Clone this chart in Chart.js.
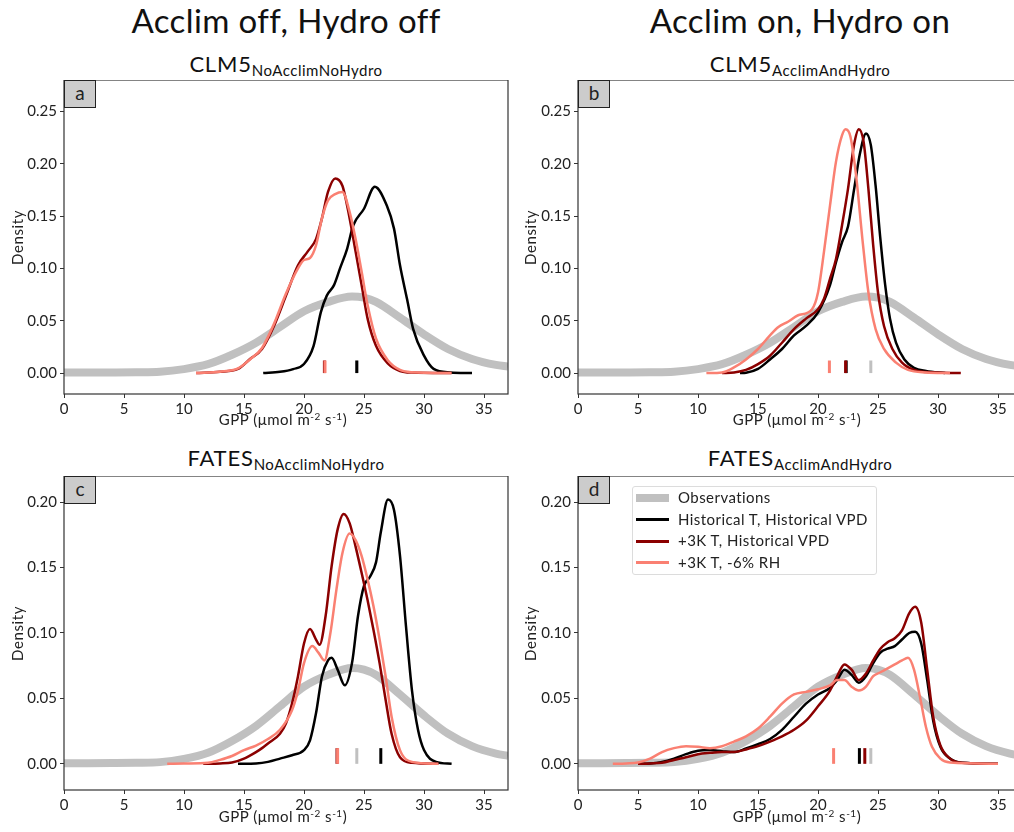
<!DOCTYPE html>
<html>
<head>
<meta charset="utf-8">
<script src="https://cdn.jsdelivr.net/npm/chart.js@4.4.1/dist/chart.umd.min.js"></script>
<style>
  body { margin: 0; width: 1014px; height: 832px; overflow: hidden; position: relative; background: #fff; font-family: Lato, "Open Sans", sans-serif; color: #111; }
  .abs { position: absolute; }
  .coltitle { font-size: 33px; line-height: 33px; text-align: center; width: 572px; top: 4px; letter-spacing: 0.4px; }
  .sub { font-size: 22px; line-height: 22px; text-align: center; width: 444px; letter-spacing: 0.8px; }
  .sub span { font-size: 15px; position: relative; top: 4px; letter-spacing: 0.5px; }
  .xlab { font-size: 15px; line-height: 15px; text-align: center; width: 444px; color: #222; letter-spacing: 0.5px; }
  .xlab sup { font-size: 10px; position: relative; top: -5px; vertical-align: baseline; }
  .ylab { font-size: 15px; line-height: 15px; color: #222; transform: rotate(-90deg); transform-origin: center; width: 80px; text-align: center; letter-spacing: 0.6px; }
  .plabel { width: 30px; height: 26px; background: #cccccc; border: 1px solid #222; font-size: 19px; line-height: 24px; text-align: center; color: #222; z-index: 2; }
  canvas { position: absolute; }
  .legend { left: 632px; top: 486px; width: 243px; height: 87px; border: 1px solid #dcdcdc; border-radius: 3px; background: rgba(255,255,255,0.85); z-index: 2; }
  .legend div { position: absolute; left: 45px; font-size: 15px; line-height: 15px; color: #222; white-space: nowrap; letter-spacing: 0.45px; }
  .legend i { position: absolute; left: 3px; width: 33px; }
</style>
</head>
<body>
<div class="abs coltitle" style="left:0">Acclim off, Hydro off</div>
<div class="abs coltitle" style="left:514px">Acclim on, Hydro on</div>

<div class="abs sub" style="left:64px;top:53px">CLM5<span>NoAcclimNoHydro</span></div>
<div class="abs sub" style="left:578px;top:53px">CLM5<span>AcclimAndHydro</span></div>
<div class="abs sub" style="left:64px;top:447px">FATES<span>NoAcclimNoHydro</span></div>
<div class="abs sub" style="left:578px;top:447px">FATES<span>AcclimAndHydro</span></div>

<canvas id="pa" width="510" height="340" style="left:0;top:80px"></canvas>
<canvas id="pb" width="514" height="340" style="left:510px;top:80px"></canvas>
<canvas id="pc" width="510" height="340" style="left:0;top:476px"></canvas>
<canvas id="pd" width="514" height="340" style="left:510px;top:476px"></canvas>

<div class="abs plabel" style="left:64px;top:80px">a</div>
<div class="abs plabel" style="left:578px;top:80px">b</div>
<div class="abs plabel" style="left:64px;top:476px">c</div>
<div class="abs plabel" style="left:578px;top:476px">d</div>

<div class="abs ylab" style="left:-23px;top:230px">Density</div>
<div class="abs ylab" style="left:490px;top:230px">Density</div>
<div class="abs ylab" style="left:-23px;top:626px">Density</div>
<div class="abs ylab" style="left:490px;top:626px">Density</div>

<div class="abs xlab" style="left:61px;top:412px">GPP (μmol m<sup>-2</sup> s<sup>-1</sup>)</div>
<div class="abs xlab" style="left:575px;top:412px">GPP (μmol m<sup>-2</sup> s<sup>-1</sup>)</div>
<div class="abs xlab" style="left:61px;top:809px">GPP (μmol m<sup>-2</sup> s<sup>-1</sup>)</div>
<div class="abs xlab" style="left:575px;top:809px">GPP (μmol m<sup>-2</sup> s<sup>-1</sup>)</div>

<div class="abs legend" id="legend"></div>

<script>
// tick labels
const xTicks = [0, 5, 10, 15, 20, 25, 30, 35];
const yTicksTop = [0, 0.05, 0.10, 0.15, 0.20, 0.25];
const yTicksBottom = [0, 0.05, 0.10, 0.15, 0.20];

const seriesNames = ['Observations', 'Historical T, Historical VPD', '+3K T, Historical VPD', '+3K T, -6% RH'];

// observed GPP density (same in every panel)
const obs = [[0,0.0005],[2,0.0005],[4,0.0006],[6,0.0008],[8,0.0013],[10,0.0038],[12,0.0085],[14,0.0175],[16,0.029],[18,0.044],[20,0.059],[22,0.068],[24,0.0732],[25,0.072],[26,0.068],[28,0.053],[30,0.037],[32,0.023],[34,0.0135],[36,0.0078],[37,0.0062]];

// a: CLM5 NoAcclimNoHydro
const aHist = [[16.6,0],[18,0.0012],[19.1,0.0038],[20,0.0086],[20.8,0.026],[21.4,0.058],[21.9,0.074],[22.5,0.084],[23,0.1],[23.6,0.119],[24.1,0.141],[25,0.157],[25.9,0.178],[26.9,0.16],[27.5,0.138],[28,0.103],[28.6,0.07],[29.1,0.042],[30,0.0166],[30.8,0.004],[32.2,0.0006],[34,0]];
const aWarm = [[11,0],[13,0.0013],[14.5,0.004],[15.5,0.0134],[16.5,0.023],[17.5,0.045],[18.5,0.074],[19.5,0.103],[20.3,0.116],[21,0.128],[21.5,0.148],[22,0.173],[22.6,0.186],[23.2,0.179],[23.8,0.148],[24.3,0.116],[24.8,0.084],[25.3,0.052],[26,0.026],[27,0.009],[28,0.002],[29,0.0005],[32.3,0]];
const aDry = [[11,0],[13,0.0013],[14.5,0.0045],[15.5,0.013],[16.5,0.024],[17.5,0.047],[18.5,0.076],[19.5,0.1],[20,0.108],[20.5,0.11],[21,0.122],[21.5,0.148],[22,0.165],[22.6,0.171],[23.2,0.173],[23.8,0.154],[24.3,0.128],[24.8,0.097],[25.3,0.065],[26,0.033],[27,0.012],[28,0.003],[29,0.0008],[32.3,0]];
const aMeans = [24.4, 24.4, 21.7, 21.75];

// b: CLM5 AcclimAndHydro
const bHist = [[13.5,0],[14,0.0003],[15,0.004],[16,0.013],[17,0.023],[18,0.036],[19,0.045],[20,0.058],[21,0.084],[21.5,0.106],[22,0.125],[22.5,0.14],[23,0.175],[23.5,0.21],[24,0.229],[24.4,0.218],[24.8,0.179],[25.2,0.128],[25.6,0.084],[26,0.052],[26.5,0.029],[27.2,0.013],[28,0.005],[29,0.002],[30.6,0]];
const bWarm = [[12,0],[13,0.0006],[14,0.003],[15,0.0086],[16,0.0166],[17,0.029],[18,0.042],[19,0.052],[20,0.061],[20.5,0.071],[21,0.09],[21.5,0.109],[22,0.141],[22.5,0.176],[23,0.218],[23.4,0.233],[23.8,0.221],[24.2,0.176],[24.6,0.122],[25,0.077],[25.5,0.045],[26.2,0.023],[27,0.01],[28,0.003],[29,0.001],[31.9,0]];
const bDry = [[10.7,0],[12,0.0006],[13,0.0054],[14,0.013],[15,0.023],[16,0.036],[16.7,0.044],[17.5,0.049],[18.3,0.055],[19.5,0.061],[20,0.077],[20.5,0.116],[21,0.16],[21.5,0.202],[22,0.227],[22.3,0.233],[22.7,0.226],[23.2,0.186],[23.7,0.128],[24.2,0.077],[24.8,0.042],[25.5,0.023],[26.5,0.01],[27.5,0.003],[29,0.0006],[31,0]];
const bMeans = [24.4, 22.35, 22.3, 20.95];

// c: FATES NoAcclimNoHydro
const cHist = [[14.5,0],[16,0.0003],[17,0.0015],[18,0.004],[19,0.0066],[20,0.0105],[20.5,0.018],[21,0.0386],[21.5,0.067],[22,0.079],[22.3,0.081],[22.8,0.072],[23.4,0.06],[24,0.077],[24.5,0.113],[25,0.136],[25.5,0.143],[26,0.154],[26.4,0.177],[27,0.202],[27.5,0.194],[28,0.159],[28.5,0.105],[29,0.056],[29.5,0.026],[30,0.0105],[31,0.0015],[32.3,0]];
const cWarm = [[11.6,0],[13,0.0003],[14,0.001],[15,0.004],[16,0.009],[16.5,0.012],[17,0.0156],[18,0.023],[18.5,0.031],[19,0.046],[19.5,0.067],[20,0.092],[20.5,0.103],[21,0.095],[21.3,0.091],[21.8,0.113],[22.3,0.151],[22.8,0.179],[23.3,0.191],[23.8,0.184],[24.3,0.166],[24.8,0.146],[25.3,0.125],[25.8,0.102],[26.3,0.077],[26.8,0.049],[27.3,0.023],[28,0.005],[29,0.0008],[31.2,0]];
const cDry = [[8.6,0],[10,0.0003],[12,0.0008],[13,0.003],[14,0.006],[15,0.0105],[16,0.014],[17,0.019],[18,0.026],[19,0.041],[19.5,0.056],[20,0.077],[20.7,0.09],[21.2,0.085],[21.7,0.079],[22.2,0.1],[22.7,0.133],[23.2,0.161],[23.8,0.176],[24.3,0.171],[24.8,0.159],[25.3,0.141],[25.8,0.12],[26.3,0.095],[26.8,0.067],[27.3,0.036],[28,0.0105],[29,0.0015],[31.2,0]];
const cMeans = [24.4, 26.4, 22.75, 22.8];

// d: FATES AcclimAndHydro
const dHist = [[5,0],[6,0.0003],[7,0.0015],[8,0.004],[9,0.0074],[10,0.01],[11,0.0105],[12,0.0097],[13,0.009],[14,0.0117],[15,0.015],[16,0.019],[17,0.026],[18,0.036],[19,0.046],[20,0.053],[21,0.058],[21.6,0.064],[22.2,0.072],[22.8,0.068],[23.4,0.062],[24,0.067],[24.6,0.077],[25.2,0.085],[25.8,0.088],[26.4,0.09],[27,0.095],[27.6,0.1],[28.1,0.101],[28.6,0.092],[29.1,0.064],[29.6,0.033],[30.2,0.013],[31,0.004],[32,0.0008],[35,0]];
const dWarm = [[5,0],[6,0.0003],[7,0.0008],[8,0.003],[9,0.005],[10,0.0074],[11,0.0084],[12,0.009],[13,0.009],[14,0.011],[15,0.0135],[16,0.017],[17,0.021],[18,0.026],[19,0.033],[20,0.044],[21,0.056],[21.6,0.067],[22.2,0.076],[22.8,0.072],[23.4,0.064],[24,0.069],[24.6,0.079],[25.2,0.088],[25.8,0.093],[26.4,0.096],[27,0.102],[27.6,0.115],[28.1,0.12],[28.6,0.108],[29.1,0.072],[29.6,0.036],[30.2,0.014],[31,0.004],[32,0.0008],[35,0]];
const dDry = [[2.9,0],[4,0.0003],[5,0.001],[6,0.004],[7,0.009],[8,0.012],[9,0.0135],[10,0.013],[11,0.012],[12,0.0135],[13,0.017],[14,0.021],[15,0.027],[16,0.036],[17,0.046],[18,0.053],[19,0.055],[20,0.057],[21,0.06],[21.6,0.064],[22.2,0.064],[22.8,0.059],[23.4,0.056],[24,0.059],[24.6,0.067],[25.2,0.07],[25.8,0.073],[26.4,0.076],[27,0.079],[27.5,0.081],[28,0.072],[28.5,0.051],[29,0.028],[29.5,0.013],[30.2,0.004],[31,0.001],[35,0]];
const dMeans = [24.4, 23.45, 23.9, 21.3];

const colors = ['#c0c0c0', '#000000', '#8b0000', '#fa8072'];
const widths = [8, 2.5, 2.5, 2.5];
const meanTickHeight = 0.012;

const frame = {
  id: 'frame',
  afterDraw(chart) {
    const { ctx, chartArea: a } = chart;
    ctx.save();
    ctx.strokeStyle = '#333';
    ctx.lineWidth = 1.2;
    ctx.strokeRect(a.left, a.top, a.right - a.left, a.bottom - a.top);
    ctx.restore();
  }
};

function toPts(arr) {
  return arr.map(p => ({ x: p[0], y: p[1] }));
}

function makePanel(id, curves, means, yMax, yTicks, yW) {
  const datasets = [];
  curves.forEach((c, i) => {
    datasets.push({
      data: toPts(c),
      borderColor: colors[i],
      borderWidth: widths[i],
      cubicInterpolationMode: 'monotone',
      pointRadius: 0,
      fill: false,
      order: 10 - i
    });
  });
  // mean markers near the x axis
  means.forEach((m, i) => {
    datasets.push({
      data: [{ x: m, y: 0 }, { x: m, y: meanTickHeight }],
      borderColor: colors[i],
      borderWidth: 3,
      pointRadius: 0,
      order: 5 - i
    });
  });

  const tickFont = { family: 'Lato', size: 15 };
  new Chart(document.getElementById(id), {
    type: 'line',
    data: { datasets },
    options: {
      responsive: false,
      animation: false,
      devicePixelRatio: 1,
      layout: { padding: { left: 0, right: 2, top: 0, bottom: 0 } },
      plugins: { legend: { display: false }, tooltip: { enabled: false } },
      scales: {
        x: {
          type: 'linear', min: 0, max: 37,
          afterBuildTicks: s => { s.ticks = xTicks.map(v => ({ value: v })); },
          ticks: { color: '#222', font: tickFont, padding: 2, maxRotation: 0, autoSkip: false },
          grid: { drawOnChartArea: false, tickLength: 4, color: '#333' },
          border: { display: false },
          afterFit: s => { s.height = 26; s.paddingLeft = 0; s.paddingRight = 0; }
        },
        y: {
          type: 'linear', min: -0.02, max: yMax,
          afterBuildTicks: s => { s.ticks = yTicks.map(v => ({ value: v })); },
          ticks: { color: '#222', font: tickFont, padding: 3, callback: v => v.toFixed(2) },
          grid: { drawOnChartArea: false, tickLength: 4, color: '#333' },
          border: { display: false },
          afterFit: s => { s.width = yW; s.paddingTop = 0; s.paddingBottom = 0; }
        }
      }
    },
    plugins: [frame]
  });
}

makePanel('pa', [obs, aHist, aWarm, aDry], aMeans, 0.28, yTicksTop, 64);
makePanel('pb', [obs, bHist, bWarm, bDry], bMeans, 0.28, yTicksTop, 68);
makePanel('pc', [obs, cHist, cWarm, cDry], cMeans, 0.22, yTicksBottom, 64);
makePanel('pd', [obs, dHist, dWarm, dDry], dMeans, 0.22, yTicksBottom, 68);

// legend in panel d
const legend = document.getElementById('legend');
seriesNames.forEach((name, i) => {
  const cy = 11 + i * 21.5;
  const h = i === 0 ? 8 : 3;
  const line = document.createElement('i');
  line.style.top = (cy - h / 2) + 'px';
  line.style.height = h + 'px';
  line.style.background = colors[i];
  legend.appendChild(line);
  const t = document.createElement('div');
  t.textContent = name;
  t.style.top = (cy - 8) + 'px';
  legend.appendChild(t);
});
</script>
</body>
</html>
